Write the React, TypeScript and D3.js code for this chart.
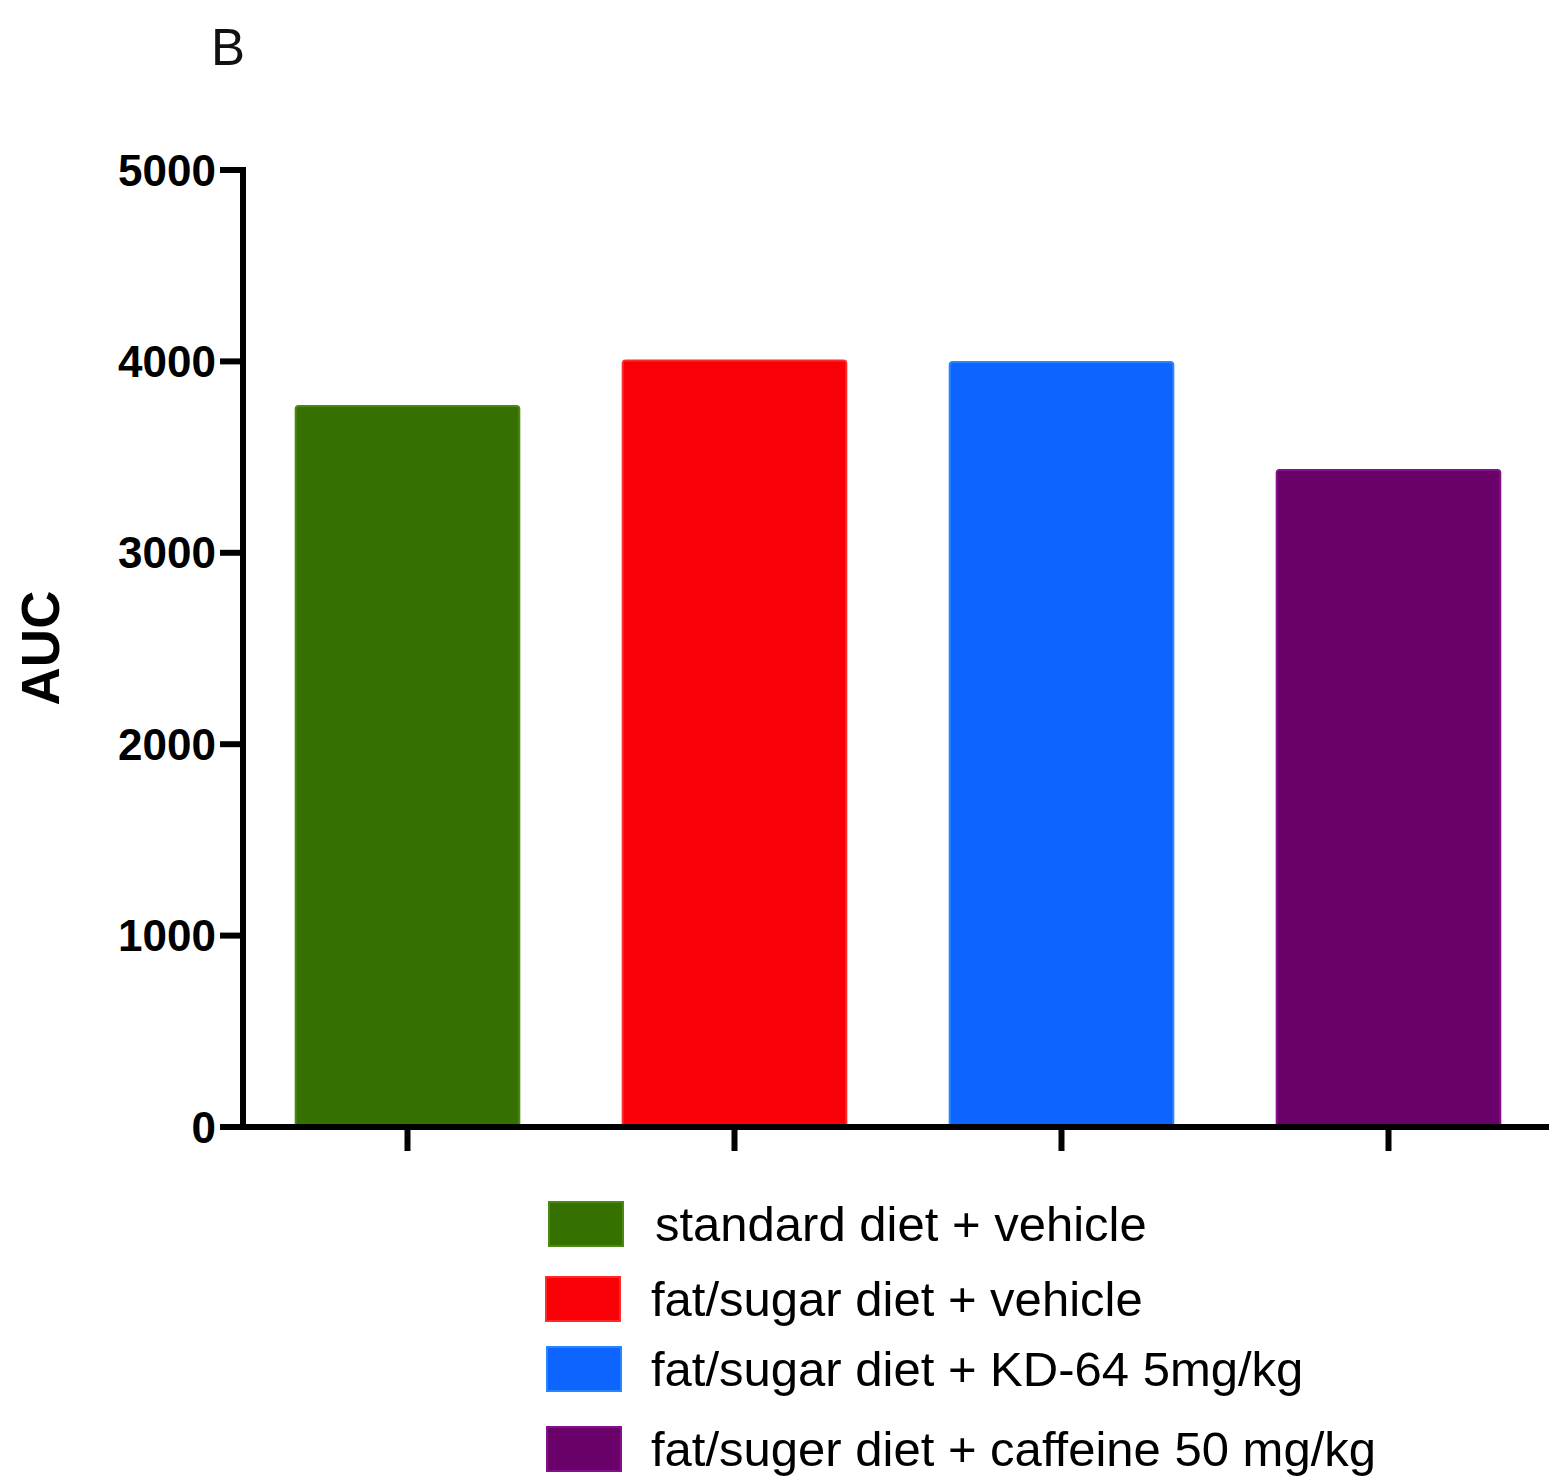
import React from "react";
import * as d3 from "d3";

const groups = [
  "standard diet + vehicle",
  "fat/sugar diet + vehicle",
  "fat/sugar diet + KD-64 5mg/kg",
  "fat/suger diet + caffeine 50 mg/kg",
];
const aucValues = [3772, 4010, 4002, 3438];
const fillColors = ["#367000", "#f80006", "#0d64ff", "#6a006a"];
const edgeColors = ["#4a8a12", "#ff2a2a", "#2a86ff", "#84108a"];
const yTicks = [0, 1000, 2000, 3000, 4000, 5000];
const yLabel = "AUC";
const panelLabel = "B";

const W = 1549;
const H = 1477;
const x0 = 244;
const xEnd = 1552;
const yTop = 170;
const yBottom = 1127;

const legendRows = [1224, 1299, 1369, 1449];
const legendSwatchX = [548, 545, 546, 546];
const legendTextX = [655, 651, 651, 651];

export default function App() {
  const y = d3.scaleLinear().domain([0, 5000]).range([yBottom, yTop]);
  const x = d3
    .scaleBand<string>()
    .domain(groups)
    .range([x0, xEnd])
    .paddingInner(0.31)
    .paddingOuter(0.155);
  const bw = x.bandwidth();

  return (
    <svg
      width={W}
      height={H}
      viewBox={`0 0 ${W} ${H}`}
      style={{ position: "absolute", left: 0, top: 0, background: "#fff" }}
      fontFamily="'Liberation Sans', Arial, Helvetica, sans-serif"
    >
      <rect x={0} y={0} width={W} height={H} fill="#fff" />
      <text x={211} y={65} fontSize={51} fill="#111">
        {panelLabel}
      </text>

      {/* bars */}
      {groups.map((g, i) => (
        <rect
          key={g}
          x={(x(g) as number) + 1}
          y={y(aucValues[i]) + 1}
          width={bw - 2}
          height={yBottom - y(aucValues[i]) - 1}
          rx={3}
          fill={fillColors[i]}
          stroke={edgeColors[i]}
          strokeWidth={2}
        />
      ))}

      {/* y axis */}
      <line x1={243} x2={243} y1={yTop - 3} y2={yBottom + 3} stroke="#000" strokeWidth={6} />
      {yTicks.map((t) => (
        <g key={t}>
          <line x1={220} x2={243} y1={y(t)} y2={y(t)} stroke="#000" strokeWidth={6} />
          <text
            x={216}
            y={y(t)}
            textAnchor="end"
            dominantBaseline="central"
            fontSize={44}
            fontWeight="bold"
            fill="#000"
          >
            {t}
          </text>
        </g>
      ))}
      <text
        transform={`translate(59, 648) rotate(-90)`}
        textAnchor="middle"
        fontSize={53}
        fontWeight="bold"
        fill="#000"
      >
        {yLabel}
      </text>

      {/* x axis */}
      <line x1={240} x2={W} y1={yBottom} y2={yBottom} stroke="#000" strokeWidth={6} />
      {groups.map((g) => {
        const cx = (x(g) as number) + bw / 2;
        return (
          <line key={g} x1={cx} x2={cx} y1={yBottom} y2={1151} stroke="#000" strokeWidth={6} />
        );
      })}

      {/* legend */}
      {groups.map((g, i) => (
        <g key={g}>
          <rect
            x={legendSwatchX[i] + 1}
            y={legendRows[i] - 22}
            width={74}
            height={44}
            fill={fillColors[i]}
            stroke={edgeColors[i]}
            strokeWidth={2}
          />
          <text x={legendTextX[i]} y={legendRows[i] + 17} fontSize={49} fill="#000">
            {g}
          </text>
        </g>
      ))}
    </svg>
  );
}
